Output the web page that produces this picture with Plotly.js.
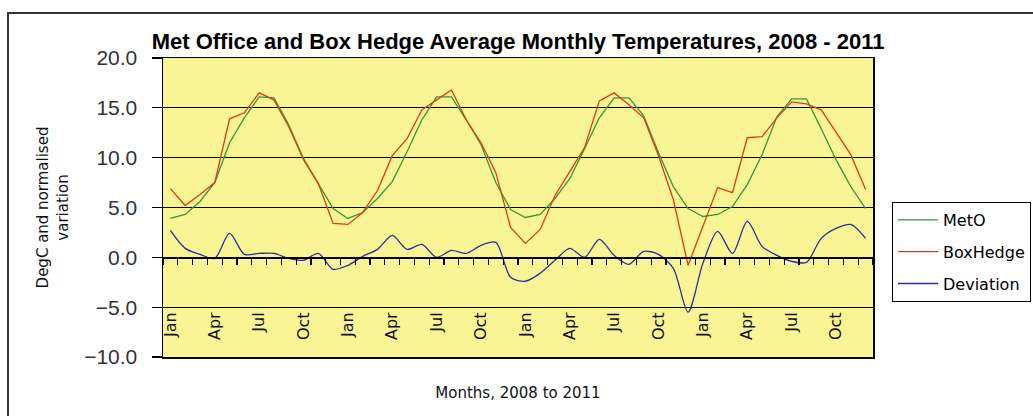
<!DOCTYPE html>
<html>
<head>
<meta charset="utf-8">
<script src="https://cdn.plot.ly/plotly-3.0.1.min.js"></script>
<style>
html,body{margin:0;padding:0;background:#fff;}
#chart{width:1033px;height:416px;}
</style>
</head>
<body>
<div id="chart"></div>
<script>
// Month categories, Jan 2008 .. Dec 2011
const monthNames = ['Jan','Feb','Mar','Apr','May','Jun','Jul','Aug','Sep','Oct','Nov','Dec'];
const years = [2008, 2009, 2010, 2011];
const months = [];
years.forEach(y => monthNames.forEach(m => months.push(m + ' ' + y)));

// Tick labels shown on the axis
const tickMonths = ['Jan','Apr','Jul','Oct'];

// Series values (deg C)
const metO = [
  3.9, 4.3, 5.6, 7.5, 11.5, 14.0, 16.1, 16.0, 13.3, 9.9, 7.4, 4.9,
  3.9, 4.5, 5.9, 7.6, 10.6, 13.8, 16.1, 16.1, 13.8, 11.3, 7.5, 4.8,
  4.0, 4.3, 5.9, 7.9, 10.9, 14.0, 16.0, 16.0, 14.2, 10.5, 7.1, 4.9,
  4.1, 4.3, 5.1, 7.3, 10.3, 14.1, 15.9, 15.9, 12.9, 9.8, 7.1, 4.9
];
const boxHedge = [
  6.9, 5.2, 6.3, 7.5, 13.9, 14.5, 16.5, 15.8, 13.1, 9.8, 7.4, 3.4,
  3.3, 4.5, 6.7, 10.2, 11.9, 14.8, 15.8, 16.8, 13.8, 11.5, 8.5, 3.0,
  1.4, 2.8, 6.2, 8.6, 11.0, 15.7, 16.5, 15.3, 14.0, 10.2, 5.8, -0.8,
  3.1, 7.0, 6.5, 12.0, 12.1, 14.0, 15.6, 15.4, 14.8, 12.6, 10.3, 6.8
];
const deviation = [
  2.7, 0.9, 0.3, -0.1, 2.4, 0.3, 0.4, 0.4, -0.1, -0.3, 0.4, -1.2,
  -0.8, 0.1, 0.8, 2.2, 0.8, 1.3, 0.0, 0.7, 0.4, 1.2, 1.5, -2.0,
  -2.4, -1.6, -0.3, 0.9, 0.0, 1.8, 0.2, -0.7, 0.6, 0.3, -1.1, -5.5,
  -0.6, 2.6, 0.4, 3.6, 1.1, 0.2, -0.4, -0.5, 1.9, 2.9, 3.3, 1.9
];

const xIdx = months.map((_, i) => i);
const tickVals = [], tickText = [];
months.forEach((m, i) => {
  const n = m.split(' ')[0];
  if (tickMonths.indexOf(n) >= 0) { tickVals.push(i); tickText.push(n); }
});

const FONT = 'Liberation Sans, Arial, sans-serif';
const WIDE = 'DejaVu Sans, Liberation Sans, sans-serif';
const xr = [-0.5, months.length - 0.5];
const yr = [-10, 20];

const traces = [
  {x: xIdx, y: metO, name: 'MetO', type: 'scatter', mode: 'lines',
   line: {color: '#2E9A38', width: 1.3}, legendgroup: 'a', xaxis: 'x', yaxis: 'y', hoverinfo: 'skip'},
  {x: xIdx, y: boxHedge, name: 'BoxHedge', type: 'scatter', mode: 'lines',
   line: {color: '#E03A1A', width: 1.3}, legendgroup: 'b', xaxis: 'x3', yaxis: 'y', hoverinfo: 'skip'},
  {x: xIdx, y: deviation, name: 'Deviation', type: 'scatter', mode: 'lines',
   line: {color: '#2E2E9E', width: 1.3, shape: 'spline', smoothing: 0.8}, legendgroup: 'c', xaxis: 'x2', yaxis: 'y', hoverinfo: 'skip'}
];

const zeroPos = (0 - yr[0]) / (yr[1] - yr[0]);
const lowPos = (-5 - yr[0]) / (yr[1] - yr[0]);

const layout = {
  width: 1033, height: 416,
  margin: {l: 163, r: 160, t: 58, b: 59, pad: 0, autoexpand: false},
  paper_bgcolor: '#ffffff',
  plot_bgcolor: '#FAF594',
  showlegend: true,
  title: {
    text: '<b>Met Office and Box Hedge Average Monthly Temperatures, 2008 - 2011</b>',
    font: {family: FONT, size: 22, color: '#000'},
    x: 0.5015, xanchor: 'center', y: 1 - 41/416, yanchor: 'middle'
  },
  xaxis: {
    range: xr, showgrid: false, zeroline: false, automargin: false,
    showline: true, linecolor: '#000', linewidth: 1.5, mirror: true,
    ticks: '', showticklabels: false,
    title: {text: 'Months, 2008 to 2011', font: {family: WIDE, size: 15, color: '#111'}, standoff: 30}
  },
  xaxis2: {
    matches: 'x', overlaying: 'x', anchor: 'free', position: lowPos, side: 'bottom',
    range: xr, showgrid: false, zeroline: false, showline: false, automargin: false,
    tickmode: 'array', tickvals: tickVals, ticktext: tickText, tickangle: -90,
    ticks: '', ticklabelstandoff: 1, tickfont: {family: WIDE, size: 16, color: '#111'}
  },
  xaxis3: {
    matches: 'x', overlaying: 'x', anchor: 'free', position: zeroPos, side: 'bottom',
    range: xr, showgrid: false, zeroline: false, automargin: false,
    showline: true, linecolor: '#000', linewidth: 1.5,
    tickmode: 'linear', tick0: 0.5, dtick: 1, ticks: 'outside', ticklen: 6, tickwidth: 1.2, tickcolor: '#000',
    showticklabels: false
  },
  yaxis: {
    range: yr, dtick: 5, tick0: 0, tickformat: '.1f', automargin: false,
    showgrid: true, gridcolor: '#000', gridwidth: 1.2, zeroline: false,
    showline: true, linecolor: '#000', linewidth: 1.5, mirror: true,
    ticks: 'outside', ticklen: 10, tickcolor: '#000', tickwidth: 1.2,
    ticklabelstandoff: 10,
    tickfont: {family: FONT, size: 21, color: '#333'},
    title: {text: 'DegC and normalised<br>variation', font: {family: WIDE, size: 15, color: '#111'}, standoff: 12}
  },
  legend: {
    xref: 'container', yref: 'container',
    x: 892 / 1033, y: 1 - 202 / 416, xanchor: 'left', yanchor: 'top',
    bgcolor: '#ffffff', bordercolor: '#000', borderwidth: 1,
    font: {family: WIDE, size: 16, color: '#000'},
    tracegroupgap: 8, traceorder: 'grouped', itemwidth: 40
  },
  shapes: [
    {type: 'rect', xref: 'paper', yref: 'paper',
     x0: (8 - 163) / 710, x1: (1045 - 163) / 710,
     y0: (357 - 430) / 299, y1: (357 - 13) / 299,
     line: {color: '#333', width: 2}, fillcolor: 'rgba(0,0,0,0)', layer: 'below'}
  ]
};

Plotly.newPlot('chart', traces, layout, {staticPlot: true, displayModeBar: false});
</script>
</body>
</html>
